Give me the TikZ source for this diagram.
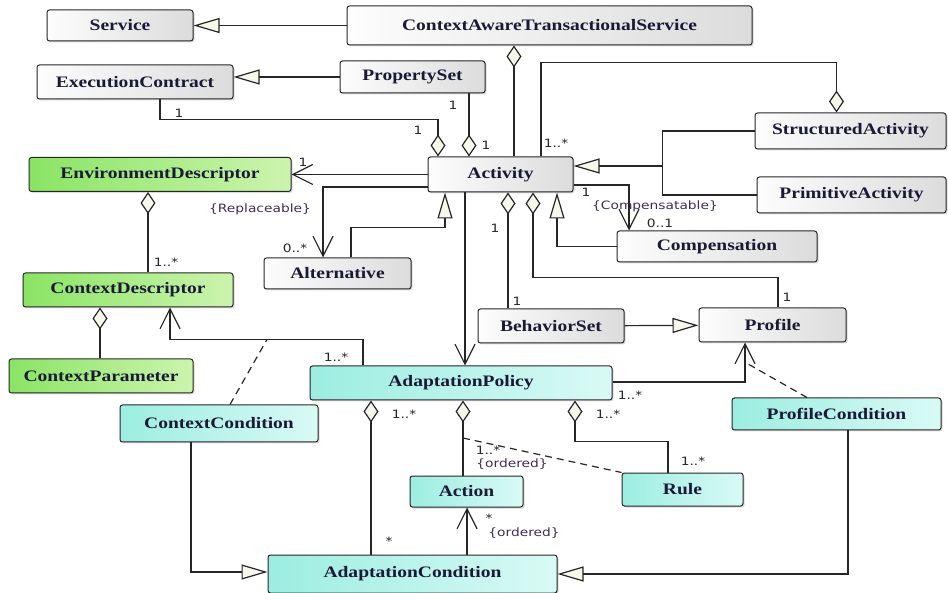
\documentclass[tikz,border=0pt]{standalone}
\usepackage{fontspec}
\newfontfamily\classfont{Liberation Serif}[FakeStretch=1.22]
\newfontfamily\multfont{DejaVu Sans}[FakeStretch=1.2]
\usetikzlibrary{arrows.meta,shadows}
\definecolor{linegray}{HTML}{262626}
\definecolor{textnavy}{HTML}{1A1A36}
\definecolor{tipfill}{HTML}{F7F7EC}
\definecolor{grayL}{HTML}{FDFDFD}
\definecolor{grayR}{HTML}{DCDCDC}
\definecolor{greenL}{HTML}{8AE464}
\definecolor{greenR}{HTML}{CCF4AE}
\definecolor{cyanL}{HTML}{9CEDE1}
\definecolor{cyanR}{HTML}{D9FAF5}
\definecolor{multgray}{HTML}{262626}
\definecolor{constrpurple}{HTML}{3E2C58}

\begin{document}
\begin{tikzpicture} [
  x=1pt, y=-1pt,
  umlclass/.style={draw=linegray, line width=1pt, rounded corners=2.5pt,
    inner sep=0, text=textnavy,
    font=\classfont\bfseries\fontsize{16}{18}\selectfont,
    drop shadow={shadow xshift=1.5pt, shadow yshift=-1.5pt, opacity=0.3}},
  grayclass/.style={umlclass, left color=grayL, right color=grayR},
  greenclass/.style={umlclass, left color=greenL, right color=greenR},
  cyanclass/.style={umlclass, left color=cyanL, right color=cyanR},
  conn/.style={draw=linegray, line width=1.2pt},
  gen/.style={conn, -{Triangle[length=26pt,width=15pt,fill=tipfill]}},
  aggr/.style={conn, {Diamond[length=22pt,width=15pt,fill=tipfill]}-},
  nav/.style={conn, -{Straight Barb[length=20pt,width=20pt]}},
  assoc/.style={conn, dash pattern=on 7pt off 5pt},
  mult/.style={font=\multfont\fontsize{11.5}{13}\selectfont, text=multgray, inner sep=0},
  constr/.style={mult, text=constrpurple}
  ]
  \useasboundingbox (0,0) rectangle (948,593);

  % classes
  \node (service) [grayclass, minimum width=146, minimum height=31] at (120,25.5) {Service};
  \node (cats) [grayclass, minimum width=405, minimum height=39] at (549.5,25.5) {ContextAwareTransactionalService};
  \node (execcontract) [grayclass, minimum width=196, minimum height=34] at (135,82) {ExecutionContract};
  \node (propset) [grayclass, minimum width=145, minimum height=32] at (412.5,77) {PropertySet};
  \node (envdesc) [greenclass, minimum width=262, minimum height=34] at (160,174.5) {EnvironmentDescriptor};
  \node (activity) [grayclass, minimum width=145, minimum height=35] at (500.5,174.5) {Activity};
  \node (structact) [grayclass, minimum width=191, minimum height=36] at (850.5,131) {StructuredActivity};
  \node (primact) [grayclass, minimum width=189, minimum height=36] at (851.5,195) {PrimitiveActivity};
  \node (compensation) [grayclass, minimum width=200, minimum height=31] at (717,246.5) {Compensation};
  \node (alternative) [grayclass, minimum width=147, minimum height=31] at (337.5,273.5) {Alternative};
  \node (ctxdesc) [greenclass, minimum width=210, minimum height=34] at (128,290) {ContextDescriptor};
  \node (ctxparam) [greenclass, minimum width=184, minimum height=34] at (101,376) {ContextParameter};
  \node (behavset) [grayclass, minimum width=146, minimum height=34] at (551,326) {BehaviorSet};
  \node (profile) [grayclass, minimum width=147, minimum height=34] at (772.5,325) {Profile};
  \node (adpolicy) [cyanclass, minimum width=302, minimum height=34] at (461,383) {AdaptationPolicy};
  \node (ctxcond) [cyanclass, minimum width=198, minimum height=37] at (219,423.5) {ContextCondition};
  \node (profcond) [cyanclass, minimum width=209, minimum height=32] at (836.5,414) {ProfileCondition};
  \node (action) [cyanclass, minimum width=113, minimum height=31] at (466.5,491.5) {Action};
  \node (rule) [cyanclass, minimum width=121, minimum height=33] at (682.5,489.5) {Rule};
  \node (adcond) [cyanclass, minimum width=289, minimum height=38] at (412.5,574) {AdaptationCondition};

  % generalizations
  \draw[gen] (cats) -- (service);
  \draw[gen] (propset.west) -- (execcontract.east |- propset.west);
  \draw[conn] (structact.west) -- ++(-92,0) coordinate (genjoin) |- (primact.west);
  \draw[gen] ([yshift=8.5]activity.east -| genjoin) -- ([yshift=8.5]activity.east);
  \draw[gen] ([xshift=13.5]alternative.north) -- ++(0,-30) -| ([xshift=-55.5]activity.south);
  \draw[gen] (compensation.west) -| ([xshift=56.5]activity.south);
  \draw[gen] (behavset) -- (profile);
  \draw[gen] ([xshift=-28]ctxcond.south) |- ([yshift=2]adcond.west);
  \draw[gen] ([xshift=11.5]profcond.south) |- (adcond.east);

  % aggregations
  \draw[aggr] ([xshift=-62.5]activity.north) -- ++(0,-37) -| ([xshift=25]execcontract.south);
  \draw[aggr] ([xshift=-31.5]activity.north) -- ([xshift=-31.5]activity.north |- propset.south);
  \draw[aggr] ([xshift=-35.5]cats.south) -- ([xshift=-35.5]cats.south |- activity.north);
  \draw[aggr] ([xshift=-14]structact.north) -- ++(0,-50) -| ([xshift=40.5]activity.north);
  \draw[aggr] ([xshift=7.5]activity.south) -- ([xshift=7.5]activity.south |- behavset.north);
  \draw[aggr] ([xshift=32.5]activity.south) -- ++(0,85) -| ([xshift=5.5]profile.north);
  \draw[aggr] ([xshift=-12]envdesc.south) -- ([xshift=-12]envdesc.south |- ctxdesc.north);
  \draw[aggr] ([xshift=-28]ctxdesc.south) -- ([xshift=-28]ctxdesc.south |- ctxparam.north);
  \draw[aggr] ([xshift=-90]adpolicy.south) -- ([xshift=-90]adpolicy.south |- adcond.north);
  \draw[aggr] ([xshift=2]adpolicy.south) -- coordinate[pos=0.5] (actmid) ([xshift=2]adpolicy.south |- action.north);
  \draw[aggr] ([xshift=114]adpolicy.south) -- ++(0,41) -| ([xshift=-14.5]rule.north);

  % navigable associations
  \draw[nav] (activity.west) -- (envdesc.east);
  \draw[nav] ([yshift=-12.5]activity.west) -| ([xshift=-14.5]alternative.north);
  \draw[nav] ([yshift=-10.5]activity.east) -| ([xshift=-88]compensation.north);
  \draw[nav] ([xshift=-35.5]activity.south) -- ([xshift=-35.5]activity.south |- adpolicy.north);
  \draw[nav] ([xshift=-98]adpolicy.north) -- ++(0,-26) coordinate (ctxbend) -| ([xshift=42]ctxdesc.south);
  \draw[nav] ([yshift=1]adpolicy.east) -| coordinate[pos=0.75] (profmid) ([xshift=-27.5]profile.south);
  \draw[nav] ([xshift=54.5]adcond.north) -- ([xshift=54.5]adcond.north |- action.south);

  % association classes
  \draw[assoc] ([xshift=11]ctxcond.north) -- ([xshift=-96]ctxbend);
  \draw[assoc] ([xshift=-29.5]profcond.north) -- (profmid);
  \draw[assoc] (actmid) -- (rule.north west);

  % multiplicities and constraints
  \node[mult] at (179,113) {1};
  \node[mult] at (418,130) {1};
  \node[mult] at (453,105) {1};
  \node[mult] at (486,145) {1};
  \node[mult] at (556,143) {1..*};
  \node[mult] at (303,162) {1};
  \node[constr] at (260,209) {\{Replaceable\}};
  \node[mult] at (295,248) {0..*};
  \node[mult] at (586,192) {1};
  \node[constr] at (655,206) {\{Compensatable\}};
  \node[mult] at (660,223) {0..1};
  \node[mult] at (495,228) {1};
  \node[mult] at (517,301) {1};
  \node[mult] at (787,297) {1};
  \node[mult] at (166,262) {1..*};
  \node[mult] at (336,357) {1..*};
  \node[mult] at (630,395) {1..*};
  \node[mult] at (404,414) {1..*};
  \node[mult] at (608,414) {1..*};
  \node[mult] at (488,450) {1..*};
  \node[constr] at (512,464) {\{ordered\}};
  \node[mult] at (693,461) {1..*};
  \node[mult] at (389,541) {*};
  \node[mult] at (489,518) {*};
  \node[constr] at (524,533) {\{ordered\}};
\end{tikzpicture}
\end{document}
